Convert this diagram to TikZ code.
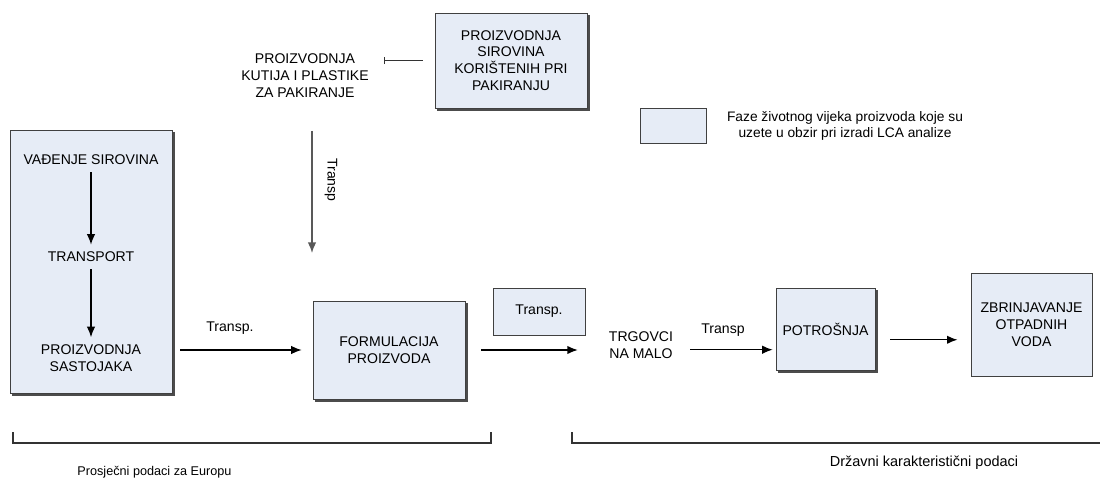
\documentclass[tikz,border=0pt]{standalone}
\usepackage{fontspec}
\setmainfont{Liberation Sans}
\usepackage{xcolor}
\usetikzlibrary{arrows.meta,positioning,calc,shadows}

\definecolor{fazaboja}{HTML}{E6ECF6}
\newcommand{\fazafont}{\fontsize{10}{12}\selectfont}
\newcommand{\legfont}{\fontsize{9.8}{10.8}\selectfont}
\newcommand{\malifont}{\fontsize{9}{11}\selectfont}

\begin{document}
\begin{tikzpicture}[
    x=0.025cm, y=-0.025cm,
    faza/.style={rectangle, draw=black!75, fill=fazaboja, line width=0.6pt, align=center, font=\fazafont},
    sjena/.style={copy shadow={shadow xshift=1.5pt, shadow yshift=-1.5pt, draw=black!70, fill=black!70}},
    tekst/.style={align=center, font=\fazafont, inner sep=2pt},
    arrow/.style={-{Latex[length=7.5pt,width=6pt]}, line width=1pt},
]
    \useasboundingbox (0,0) rectangle (1100,479);

    % Stage 1
    \node[faza, sjena, minimum width=4.05cm, minimum height=6.575cm] (lijevi) at (91,261.5) {};
    \node[tekst] (vadjenje) at (91,160) {VAĐENJE SIROVINA};
    \node[tekst] (transport) at (91,257) {TRANSPORT};
    \node[tekst] (sastojci) at (91,358) {PROIZVODNJA\\SASTOJAKA};
    \node[faza, sjena, minimum width=3.8cm, minimum height=2.45cm] (formulacija) at (389,350) {FORMULACIJA\\PROIZVODA};
    \node[faza, minimum width=2.3cm, minimum height=1.175cm] (transpbox) at (539,311.5) {Transp.};

    % Packaging
    \node[faza, sjena, minimum width=3.8cm, minimum height=2.375cm] (sirovine) at (511,60.5) {PROIZVODNJA\\SIROVINA\\KORIŠTENIH PRI\\PAKIRANJU};
    \node[tekst] (kutije) at (305,76) {PROIZVODNJA\\KUTIJA I PLASTIKE\\ZA PAKIRANJE};
    \coordinate (dolje) at (312,253);

    % Stage 2
    \node[tekst] (trgovci) at (641,345) {TRGOVCI\\NA MALO};
    \node[faza, sjena, minimum width=2.475cm, minimum height=2.05cm] (potrosnja) at (825.5,329) {POTROŠNJA};
    \node[faza, minimum width=3.025cm, minimum height=2.575cm] (zbrinjavanje) at (1031.5,324.5) {ZBRINJAVANJE\\OTPADNIH\\VODA};
    \coordinate (ulaz) at ($(potrosnja.north west)!0.75!(potrosnja.south west)$);
    \coordinate (izlaz) at ($(potrosnja.north east)!0.63!(potrosnja.south east)$);

    % Legend
    \node[faza, minimum width=1.65cm, minimum height=0.875cm] (legenda) at (673,125.5) {};
    \node[align=center, font=\legfont] (legendtekst) at (845,126) {Faze životnog vijeka proizvoda koje su\\uzete u obzir pri izradi LCA analize};

    % Arrows
    \draw[arrow, shorten <=3pt, shorten >=3pt] (vadjenje) -- (transport);
    \draw[arrow, shorten <=3pt, shorten >=3pt] (transport) -- (sastojci);
    \draw[arrow, shorten <=0.2cm, shorten >=0.27cm] (lijevi.east |- formulacija.west) -- (formulacija.west);
    \draw[arrow, shorten <=0.4cm, shorten >=0.7cm] (formulacija.east) -- (formulacija.east -| trgovci.west);
    \draw[arrow, shorten <=0.35cm, shorten >=0.07cm] (trgovci.east |- ulaz) -- (ulaz);
    \draw[arrow, shorten <=0.375cm, shorten >=0.325cm] (izlaz) -- (izlaz -| zbrinjavanje.west);
    \draw[{Bar[width=5pt]}-, line width=0.8pt, black!80, shorten <=0.3cm, shorten >=0.3cm] (sirovine.west -| kutije.east) -- (sirovine.west);
    \draw[arrow, black!65, shorten <=0.75cm] (dolje |- kutije.south) -- (dolje);

    % Transport labels
    \node[tekst] (lbl1) at (230,328) {Transp.};
    \node[tekst] (lbl2) at (723,330) {Transp};
    \node[tekst, rotate=-90] (lbl3) at (331,180) {Transp};

    % Data sources
    \draw[line width=0.8pt, black!80] (13,432) -- (13,443) -- (491,443) -- (491,432);
    \draw[line width=0.8pt, black!80] (572,432) -- (572,443) -- (1100,443);
    \node[font=\malifont] (europa) at (154.5,472) {Prosječni podaci za Europu};
    \node[font=\fontsize{10.3}{12}\selectfont] (drzava) at (924,463) {Državni karakteristični podaci};

\end{tikzpicture}
\end{document}
